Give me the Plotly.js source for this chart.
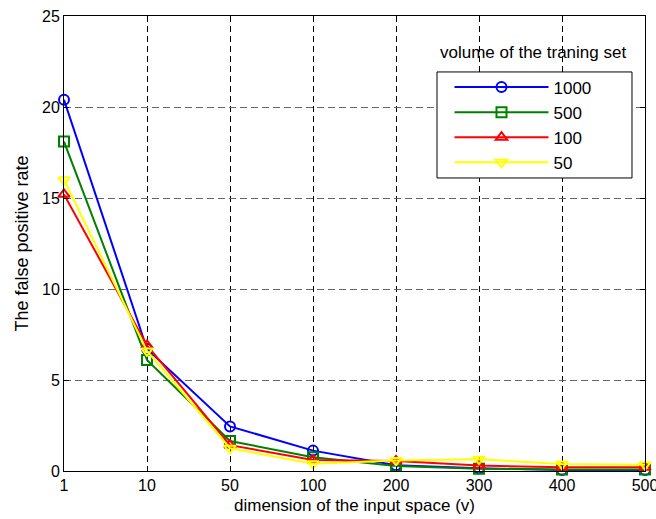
<!DOCTYPE html>
<html>
<head>
<meta charset="utf-8">
<script src="https://cdn.plot.ly/plotly-3.0.1.min.js"></script>
<style>html,body{margin:0;padding:0;background:#fff;}#chart{width:656px;height:519px;}</style>
</head>
<body>
<div id="chart"></div>
<script>
const dims = ['1', '10', '50', '100', '200', '300', '400', '500'];
const rate1000 = [20.4, 6.7, 2.45, 1.12, 0.32, 0.15, 0.06, 0.05];
const rate500  = [18.1, 6.1, 1.65, 0.75, 0.28, 0.12, 0.08, 0.08];
const rate100  = [15.2, 6.9, 1.42, 0.6, 0.55, 0.3, 0.2, 0.2];
const rate50   = [16.0, 6.6, 1.25, 0.4, 0.58, 0.65, 0.38, 0.35];
const seriesNames = ['1000', '500', '100', '50'];
const yTicks = [0, 5, 10, 15, 20, 25];

const FONT = 'Liberation Sans, Arial, Helvetica, sans-serif';
function tr(y, name, color, symbol) {
  return {
    x: dims, y: y, name: name, type: 'scatter', mode: 'lines+markers',
    line: {color: color, width: 2},
    marker: {symbol: symbol, size: 10, color: color, line: {color: color, width: 2}},
    cliponaxis: false
  };
}
const data = [
  tr(rate1000, seriesNames[0], '#0000ff', 'circle-open'),
  tr(rate500, seriesNames[1], '#008000', 'square-open'),
  tr(rate100, seriesNames[2], '#ff0000', 'triangle-up-open'),
  tr(rate50, seriesNames[3], '#ffff00', 'triangle-down-open')
];
const layout = {
  width: 656, height: 519,
  margin: {l: 64, r: 11, t: 16, b: 48, autoexpand: false},
  paper_bgcolor: '#fff', plot_bgcolor: '#fff',
  font: {family: FONT, size: 16, color: '#000'},
  showlegend: true,
  legend: {
    x: 0.6635, y: 0.8824, xanchor: 'left', yanchor: 'top',
    borderwidth: 0, bgcolor: 'rgba(0,0,0,0)',
    font: {family: FONT, size: 17, color: '#000'},
    itemwidth: 94, tracegroupgap: 0
  },
  shapes: [{
    type: 'rect', xref: 'paper', yref: 'paper',
    x0: 0.642, x1: 0.9776, y0: 0.644, y1: 0.877,
    line: {color: '#000', width: 1}, fillcolor: '#fff', layer: 'above'
  }],
  xaxis: {
    type: 'category', range: [0, 7],
    showgrid: true, gridcolor: '#000', griddash: '6px,4px', gridwidth: 1,
    showline: true, linecolor: '#000', linewidth: 1, mirror: 'ticks',
    ticks: 'inside', ticklen: 5, tickcolor: '#000', zeroline: false,
    tickfont: {family: FONT, size: 16, color: '#000'},
    title: {text: 'dimension of the input space (v)', font: {family: FONT, size: 17, color: '#000'}, standoff: 5}
  },
  yaxis: {
    range: [0, 25], tickvals: yTicks,
    showgrid: true, gridcolor: '#666', griddash: '7px,4px', gridwidth: 1,
    showline: true, linecolor: '#000', linewidth: 1, mirror: 'ticks',
    ticks: 'inside', ticklen: 5, tickcolor: '#000', zeroline: false,
    tickfont: {family: FONT, size: 16, color: '#000'},
    title: {text: 'The false positive rate', font: {family: FONT, size: 18, color: '#000'}, standoff: 8}
  },
  annotations: [{
    text: 'volume of the traning set', xref: 'paper', yref: 'paper',
    x: 0.807, y: 0.919, xanchor: 'center', yanchor: 'middle', showarrow: false,
    font: {family: FONT, size: 17, color: '#000'}
  }]
};
Plotly.newPlot('chart', data, layout, {displayModeBar: false, staticPlot: true});
</script>
</body>
</html>
